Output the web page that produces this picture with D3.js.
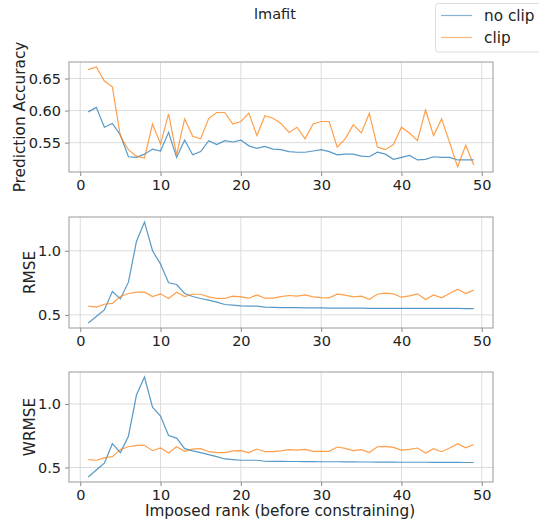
<!DOCTYPE html>
<html>
<head>
<meta charset="utf-8">
<script src="https://cdn.jsdelivr.net/npm/d3@7/dist/d3.min.js"></script>
<style>
	body { margin: 0; background: #fff; }
	svg { font-family: "DejaVu Sans", sans-serif; }
</style>
</head>
<body>
<div id="stage"></div>
<script>
	'use strict';

	// ranks 1..49
	var ranks = d3.range(1, 50);

	var accNoClip = [0.598, 0.605, 0.574, 0.580, 0.562, 0.528, 0.527, 0.532, 0.540, 0.537,
		0.566, 0.527, 0.554, 0.531, 0.536, 0.553, 0.547, 0.553, 0.551, 0.554,
		0.545, 0.541, 0.544, 0.540, 0.539, 0.536, 0.535, 0.535, 0.537, 0.539,
		0.536, 0.531, 0.532, 0.532, 0.529, 0.528, 0.535, 0.532, 0.524, 0.527,
		0.530, 0.523, 0.524, 0.528, 0.527, 0.527, 0.523, 0.523, 0.523];
	var accClip = [0.664, 0.668, 0.646, 0.637, 0.560, 0.539, 0.529, 0.526, 0.579, 0.548,
		0.595, 0.531, 0.587, 0.560, 0.556, 0.588, 0.597, 0.597, 0.579, 0.583,
		0.596, 0.561, 0.592, 0.588, 0.580, 0.566, 0.574, 0.556, 0.579, 0.583,
		0.583, 0.543, 0.556, 0.578, 0.565, 0.596, 0.543, 0.539, 0.547, 0.574,
		0.565, 0.553, 0.601, 0.561, 0.587, 0.550, 0.512, 0.546, 0.515];

	var rmseNoClip = [0.437, 0.487, 0.539, 0.682, 0.625, 0.755, 1.073, 1.224, 1.000, 0.896,
		0.750, 0.737, 0.667, 0.643, 0.628, 0.615, 0.599, 0.581, 0.576, 0.570,
		0.568, 0.568, 0.560, 0.558, 0.557, 0.556, 0.556, 0.555, 0.555, 0.554,
		0.553, 0.553, 0.553, 0.552, 0.552, 0.551, 0.551, 0.551, 0.551, 0.551,
		0.550, 0.550, 0.550, 0.550, 0.550, 0.550, 0.550, 0.549, 0.549];
	var rmseClip = [0.568, 0.560, 0.583, 0.589, 0.643, 0.667, 0.677, 0.677, 0.643, 0.664,
		0.628, 0.677, 0.643, 0.661, 0.661, 0.641, 0.628, 0.628, 0.646, 0.641,
		0.630, 0.656, 0.630, 0.630, 0.643, 0.651, 0.646, 0.656, 0.641, 0.635,
		0.633, 0.661, 0.654, 0.641, 0.646, 0.622, 0.661, 0.669, 0.664, 0.638,
		0.648, 0.664, 0.620, 0.656, 0.633, 0.667, 0.701, 0.667, 0.693];

	var wrmseNoClip = [0.425, 0.480, 0.534, 0.687, 0.617, 0.746, 1.070, 1.212, 0.974, 0.904,
		0.751, 0.731, 0.648, 0.630, 0.617, 0.601, 0.585, 0.567, 0.562, 0.557,
		0.557, 0.557, 0.549, 0.548, 0.548, 0.547, 0.547, 0.546, 0.546, 0.545,
		0.545, 0.545, 0.544, 0.544, 0.543, 0.543, 0.542, 0.542, 0.542, 0.541,
		0.541, 0.541, 0.541, 0.540, 0.540, 0.540, 0.540, 0.539, 0.539];
	var wrmseClip = [0.562, 0.557, 0.575, 0.585, 0.642, 0.663, 0.674, 0.674, 0.632, 0.653,
		0.614, 0.663, 0.627, 0.645, 0.648, 0.624, 0.617, 0.617, 0.630, 0.632,
		0.617, 0.645, 0.624, 0.624, 0.630, 0.640, 0.637, 0.642, 0.627, 0.627,
		0.627, 0.661, 0.650, 0.632, 0.640, 0.617, 0.663, 0.666, 0.658, 0.637,
		0.642, 0.653, 0.614, 0.648, 0.624, 0.653, 0.687, 0.655, 0.681];

	var xTicks = [0, 10, 20, 30, 40, 50];
	var seriesNames = ['no clip', 'clip'];
	var colors = ['#1f77b4', '#ff7f0e'];

	var panels = [
		{ label: 'Prediction Accuracy', series: [accNoClip, accClip], yTicks: [0.55, 0.60, 0.65], fmt: '.2f', top: 62, bottom: 172, labelX: 20 },
		{ label: 'RMSE', series: [rmseNoClip, rmseClip], yTicks: [0.5, 1.0], fmt: '.1f', top: 217, bottom: 328, labelX: 30 },
		{ label: 'WRMSE', series: [wrmseNoClip, wrmseClip], yTicks: [0.5, 1.0], fmt: '.1f', top: 372, bottom: 482, labelX: 30 }
	];

	var width = 539, height = 522, left = 69, right = 493;
	var tickFont = '14.5px', labelFont = '15.3px';

	var svg = d3.select('#stage').append('svg')
		.attr('width', width)
		.attr('height', height);

	// matplotlib style 5% margins
	var x = d3.scaleLinear().domain([-1.4, 51.4]).range([left, right]);

	panels.forEach(function(p) {
		var all = p.series[0].concat(p.series[1]);
		var lo = d3.min(all), hi = d3.max(all), pad = (hi - lo) * 0.05;
		var y = d3.scaleLinear().domain([lo - pad, hi + pad]).range([p.bottom, p.top]);
		var g = svg.append('g');

		// grid
		g.selectAll('.gx').data(xTicks).enter().append('line')
			.attr('x1', function(d) { return x(d); })
			.attr('x2', function(d) { return x(d); })
			.attr('y1', p.top).attr('y2', p.bottom)
			.attr('stroke', '#dcdcdc').attr('stroke-width', 1);
		g.selectAll('.gy').data(p.yTicks).enter().append('line')
			.attr('x1', left).attr('x2', right)
			.attr('y1', function(d) { return y(d); })
			.attr('y2', function(d) { return y(d); })
			.attr('stroke', '#dcdcdc').attr('stroke-width', 1);

		// axes
		var xAxis = d3.axisBottom(x).tickValues(xTicks).tickSize(4).tickPadding(4);
		var yAxis = d3.axisLeft(y).tickValues(p.yTicks).tickFormat(d3.format(p.fmt)).tickSize(4).tickPadding(4);

		var gx = g.append('g').attr('transform', 'translate(0,' + p.bottom + ')').call(xAxis);
		var gy = g.append('g').attr('transform', 'translate(' + left + ',0)').call(yAxis);
		[gx, gy].forEach(function(a) {
			a.select('.domain').remove();
			a.selectAll('line').attr('stroke', '#888');
			a.selectAll('text').attr('fill', '#222').style('font-size', tickFont).style('font-family', 'DejaVu Sans');
		});

		// lines
		var line = d3.line()
			.x(function(d, i) { return x(ranks[i]); })
			.y(function(d) { return y(d); });
		p.series.forEach(function(s, k) {
			g.append('path')
				.datum(s)
				.attr('d', line)
				.attr('fill', 'none')
				.attr('stroke', colors[k])
				.attr('stroke-opacity', 0.75)
				.attr('stroke-width', 1.2);
		});

		// frame
		g.append('rect')
			.attr('x', left).attr('y', p.top)
			.attr('width', right - left).attr('height', p.bottom - p.top)
			.attr('fill', 'none').attr('stroke', '#999').attr('stroke-width', 1);

		svg.append('text')
			.attr('transform', 'translate(' + p.labelX + ',' + ((p.top + p.bottom) / 2) + ') rotate(-90)')
			.attr('text-anchor', 'middle')
			.attr('dy', '0.35em')
			.style('font-size', labelFont)
			.attr('fill', '#222')
			.text(p.label);
	});

	svg.append('text')
		.attr('x', 280).attr('y', 516)
		.attr('text-anchor', 'middle')
		.style('font-size', labelFont)
		.attr('fill', '#222')
		.text('Imposed rank (before constraining)');

	svg.append('text')
		.attr('x', 275).attr('y', 18.5)
		.attr('text-anchor', 'middle')
		.style('font-size', '14.5px')
		.attr('fill', '#222')
		.text('lmafit');

	// legend
	var lg = svg.append('g');
	lg.append('rect')
		.attr('x', 435.5).attr('y', 3.5).attr('width', 120).attr('height', 48.5).attr('rx', 3)
		.attr('fill', '#fff').attr('stroke', '#ddd');
	seriesNames.forEach(function(n, i) {
		lg.append('line')
			.attr('x1', 441).attr('x2', 472)
			.attr('y1', 15.5 + i * 22).attr('y2', 15.5 + i * 22)
			.attr('stroke', colors[i]).attr('stroke-opacity', 0.55).attr('stroke-width', 1.2);
		lg.append('text')
			.attr('x', 484).attr('y', 15.5 + i * 22).attr('dy', '0.35em')
			.style('font-size', labelFont).attr('fill', '#222')
			.text(n);
	});
</script>
</body>
</html>
